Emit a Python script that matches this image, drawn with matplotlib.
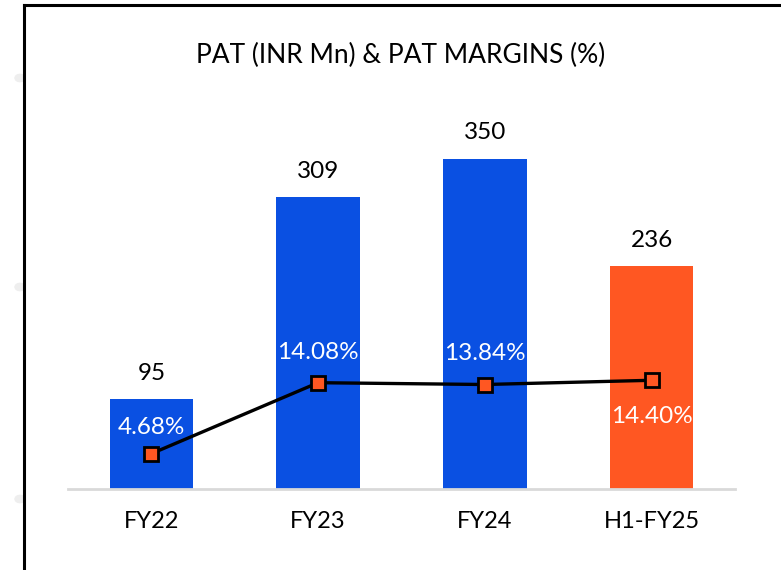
import matplotlib
matplotlib.use("Agg")
import matplotlib.pyplot as plt
from matplotlib.lines import Line2D
from matplotlib.patches import Circle

categories = ["FY22", "FY23", "FY24", "H1-FY25"]
pat = [95, 309, 350, 236]
margins = [4.68, 14.08, 13.84, 14.40]
margin_labels = ["4.68%", "14.08%", "13.84%", "14.40%"]
bar_colors = ["#0A50E2", "#0A50E2", "#0A50E2", "#FF5722"]

W, H = 781, 570
fig = plt.figure(figsize=(W / 100, H / 100), dpi=100)
plt.rcParams['font.family'] = ['Lato', 'DejaVu Sans']

# axes in pixel coordinates
x0, x1 = 68, 735
yb, yt = 489, 100
ax = fig.add_axes([x0 / W, 1 - yb / H, (x1 - x0) / W, (yb - yt) / H])
ax.set_xlim(-0.5, 3.5)
ax.set_ylim(0, (yb - yt) / 0.944)
xs = range(len(categories))
ax.bar(xs, pat, width=0.5, color=bar_colors, zorder=2)
for s in ["top", "right", "left"]:
    ax.spines[s].set_visible(False)
ax.spines["bottom"].set_color("#D9D9D9")
ax.spines["bottom"].set_linewidth(2)
ax.set_yticks([])
ax.set_xticks(list(xs))
ax.set_xticklabels(categories, fontsize=17, color="black")
ax.tick_params(axis="x", length=0, pad=16)
for x, v in zip(xs, pat):
    ax.annotate(str(v), (x, v), xytext=(0, 18.5), textcoords="offset points",
                ha="center", va="center", fontsize=17.5, color="black")

ax2 = ax.twinx()
ax2.set_ylim(0, (yb - yt) / 7.55)
ax2.axis("off")
ax2.plot(list(xs), margins, color="black", lw=2.4, marker="s", markersize=10,
         markerfacecolor="#FF5722", markeredgecolor="black", markeredgewidth=2, zorder=3)
offsets = [19, 21.5, 22, -26]
for x, v, lab, o in zip(xs, margins, margin_labels, offsets):
    ax2.annotate(lab, (x, v), xytext=(0, o), textcoords="offset points",
                 ha="center", va="center", fontsize=17.5, color="white")

fig.text(401 / W, 1 - 55 / H, "PAT (INR Mn) & PAT MARGINS (%)", ha="center",
         va="center", fontsize=19, color="black")

# slide border and faint dots
for cy in [78, 287, 499]:
    fig.patches.append(Circle((20 / W, 1 - cy / H), 5 / W, transform=fig.transFigure,
                              color="#EEEEEE", zorder=0))
fig.add_artist(Line2D([24 / W, 24 / W], [0, 1 - 5 / H], color="black", lw=2.2))
fig.add_artist(Line2D([24 / W, 1], [1 - 5 / H, 1 - 5 / H], color="black", lw=2.2))

fig.savefig("out.png", dpi=100)
